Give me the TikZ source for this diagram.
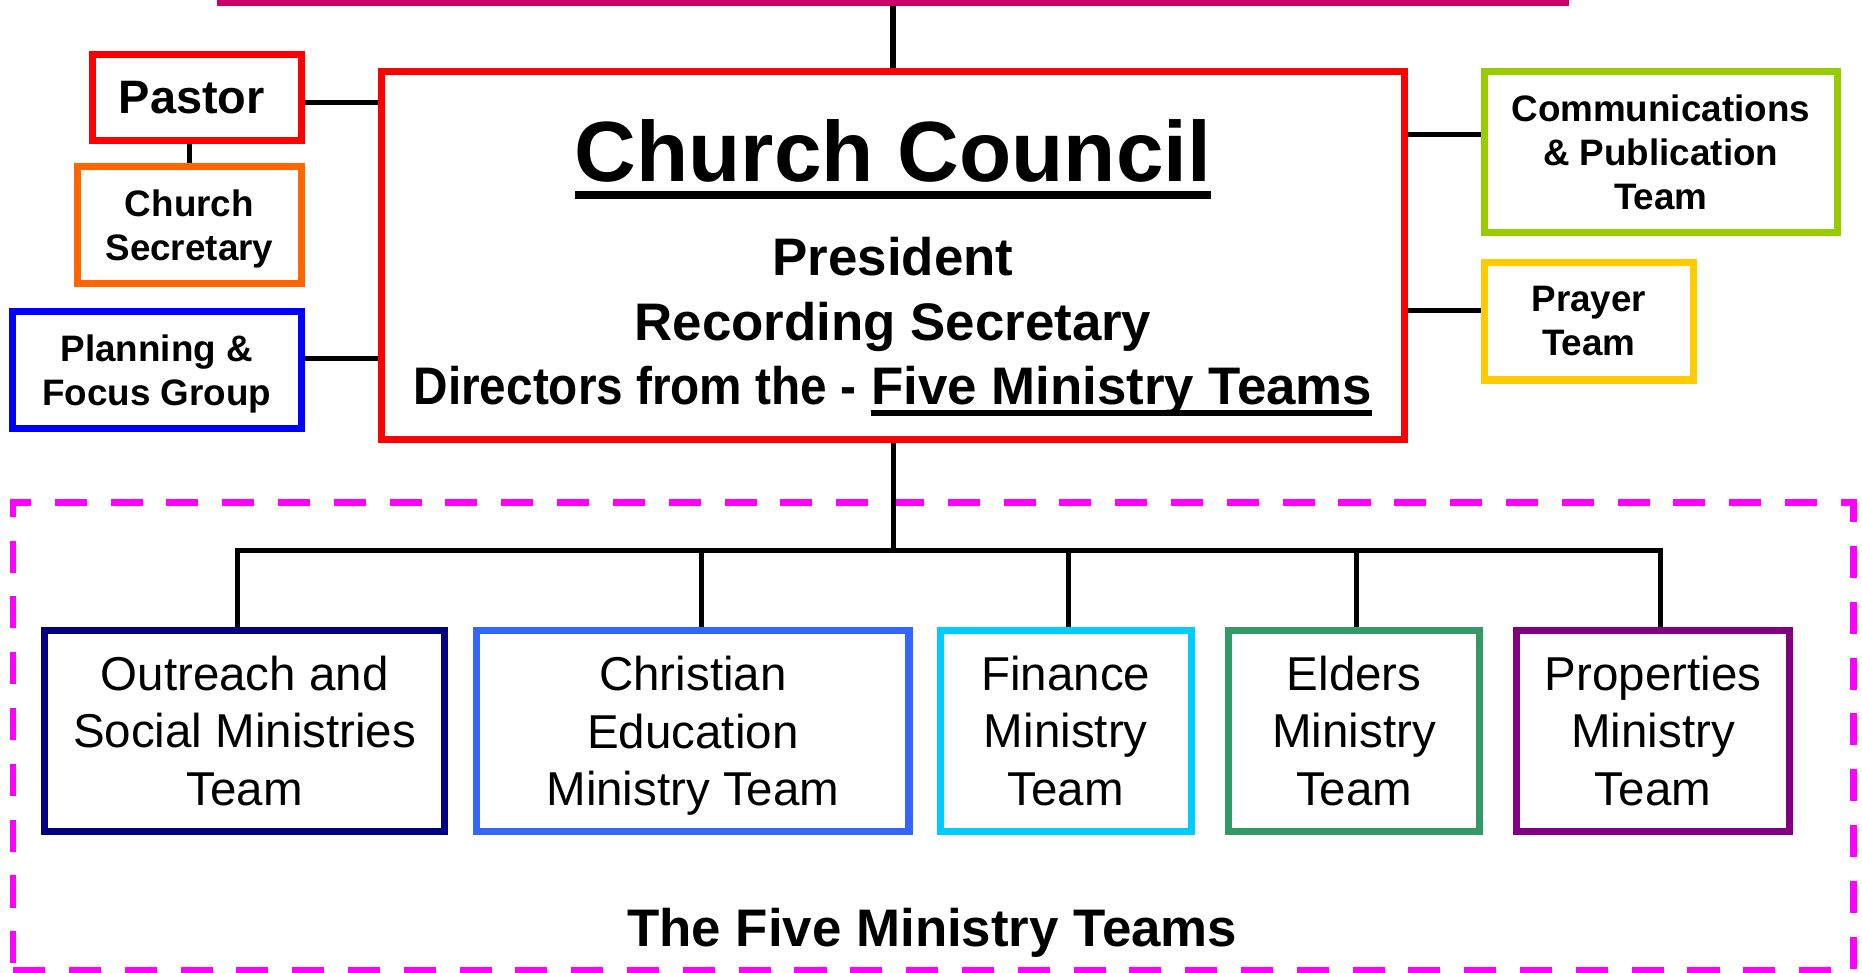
\documentclass[tikz,border=0pt]{standalone}
\usepackage{graphicx}
\usepackage{fontspec}
\setmainfont{Liberation Sans}

\definecolor{barpink}{HTML}{CC0066}
\definecolor{councilred}{HTML}{FF0000}
\definecolor{secorange}{HTML}{FF6600}
\definecolor{planblue}{HTML}{0000FF}
\definecolor{commgreen}{HTML}{99CC00}
\definecolor{prayergold}{HTML}{FFCC00}
\definecolor{groupmagenta}{HTML}{FF00FF}
\definecolor{outnavy}{HTML}{000080}
\definecolor{edublue}{HTML}{3366FF}
\definecolor{fincyan}{HTML}{00CCFF}
\definecolor{eldgreen}{HTML}{339966}
\definecolor{proppurple}{HTML}{800080}

% font size helper
\newcommand\fsz[2]{\fontsize{#1}{#2}\selectfont}
% a line whose descenders do not count for vertical centring
\newcommand\nodp[1]{\raisebox{0pt}[\height][0pt]{#1}}
% heavy underline: text, distance of rule bottom below baseline, rule thickness
\newsavebox\ulbox
\newcommand\thickul[3]{\sbox\ulbox{#1}\rlap{\rule[-#2]{\wd\ulbox}{#3}}\usebox\ulbox}

\begin{document}
\begin{tikzpicture}[
  x=1pt, y=-1pt,
  orgbox/.style={draw, line width=6pt, fill=white, inner sep=0pt, align=center},
  smallbold/.style={font=\fsz{31}{37}\bfseries},
  councilline/.style={anchor=base, font=\fsz{44.5}{54}\bfseries},
  teambox/.style={orgbox, minimum height=169pt, font=\fsz{40}{48.5}},
  linkline/.style={line width=4.5pt},
  treeline/.style={line width=4.2pt},
]
\useasboundingbox (0,0) rectangle (1568,819);
\clip (0,0) rectangle (1568,819);
\fill[white] (0,0) rectangle (1568,819);

% parent box, only its lower edge falls inside the page
\node[orgbox, draw=barpink, minimum width=1132pt, minimum height=104pt] (parent) at (752,-50) {};

% Church Council
\node[orgbox, draw=councilred, minimum width=862pt, minimum height=310pt] (council) at (752,215) {};
\node[anchor=base, font=\fsz{72}{80}\bfseries] (cc-title) at (752,153) {\thickul{Church Council}{14.3pt}{6.5pt}};
\node[councilline] (cc-pres) at (752,232.4) {President};
\node[councilline] (cc-rec) at (752,286.7) {Recording Secretary};
\node[councilline] (cc-dir) at (752,341) {\scalebox{0.903}[1]{Directors from the -} \thickul{Five Ministry Teams}{9pt}{4.7pt}};

% left side
\node[orgbox, draw=councilred, minimum width=176pt, minimum height=72pt, font=\fsz{39.5}{46}\bfseries] (pastor) at (166,82) {\kern-9pt Pastor};
\node[orgbox, smallbold, draw=secorange, minimum width=189pt, minimum height=99pt] (secretary) at (159.5,189.5) {Church\\\nodp{Secretary}};
\node[orgbox, smallbold, draw=planblue, minimum width=243.5pt, minimum height=99pt] (planning) at (132,311.5) {Planning \&\\\nodp{Focus Group}};

% right side
\node[orgbox, smallbold, draw=commgreen, minimum width=297pt, minimum height=136pt] (comm) at (1398.5,128) {Communications\\\& Publication\\Team};
\node[orgbox, smallbold, draw=prayergold, minimum width=176pt, minimum height=99pt] (prayer) at (1338,270.5) {Prayer\\Team};

% ministry team group
\node[draw=groupmagenta, line width=5.5pt, dash pattern=on 27pt off 20pt, inner sep=0pt,
      minimum width=1549.7pt, minimum height=393.7pt] (group) at (785.85,620.15) {};
\node[anchor=base, font=\fsz{44.5}{52}\bfseries] (group-title) at (785,797) {The Five Ministry Teams};

\node[teambox, draw=outnavy, minimum width=336.5pt] (outreach) at (206,615.5) {Outreach and\\Social Ministries\\Team};
\node[teambox, draw=edublue, minimum width=364pt] (education) at (583.5,615.5) {Christian\\Education\\\nodp{Ministry Team}};
\node[teambox, draw=fincyan, minimum width=211pt] (finance) at (897.5,615.5) {Finance\\Ministry\\Team};
\node[teambox, draw=eldgreen, minimum width=211.4pt] (elders) at (1140.3,615.5) {Elders\\Ministry\\Team};
\node[teambox, draw=proppurple, minimum width=230pt] (properties) at (1392,615.5) {Properties\\Ministry\\Team};

% side links
\draw[linkline] (parent.south) -- (council.north);
\path ([yshift=-4.5pt]pastor.east) coordinate (pastor-link);
\draw[linkline] (pastor-link) -- (pastor-link -| council.west);
\draw[linkline] (secretary.north) -- (secretary.north |- pastor.south);
\path ([yshift=9.5pt]planning.east) coordinate (planning-link);
\draw[linkline] (planning-link) -- (planning-link -| council.west);
\path ([yshift=14.6pt]comm.west) coordinate (comm-link);
\draw[linkline] (comm-link) -- (comm-link -| council.east);
\path ([yshift=9pt]prayer.west) coordinate (prayer-link);
\draw[linkline] (prayer-link) -- (prayer-link -| council.east);

% tree to the five teams
\coordinate (b1) at (200,463.7);
\coordinate (b2) at (590.5,463.7);
\coordinate (b3) at (900,463.7);
\coordinate (b4) at (1142.6,463.7);
\coordinate (b5) at (1398.6,463.7);
\draw[treeline] (council.south) -- (council.south |- b1);
\draw[treeline] (b1 |- outreach.north) -- (b1) -- (b5) -- (b5 |- properties.north);
\draw[treeline] (b2) -- (b2 |- education.north);
\draw[treeline] (b3) -- (b3 |- finance.north);
\draw[treeline] (b4) -- (b4 |- elders.north);
\end{tikzpicture}
\end{document}
